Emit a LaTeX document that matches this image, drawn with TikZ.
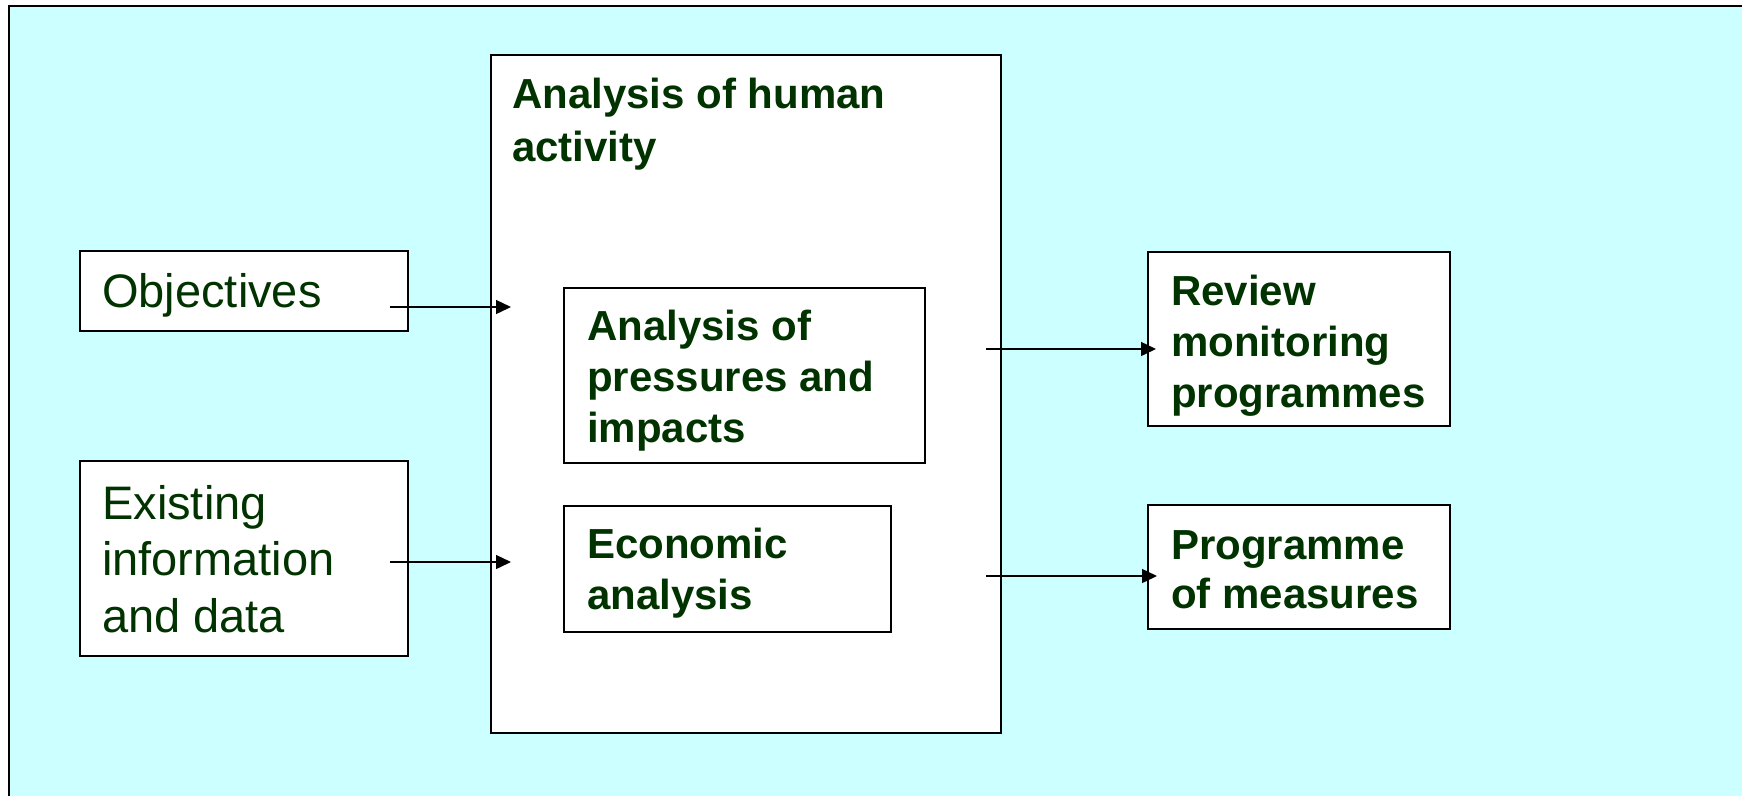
\documentclass[tikz,border=0pt]{standalone}
\usepackage{fontspec}
\setmainfont{Liberation Sans}
\usetikzlibrary{arrows.meta}
\definecolor{bgcyan}{RGB}{204,255,255}
\definecolor{txtgreen}{RGB}{0,51,0}
\tikzset{
  box/.style={draw=black, line width=1.6pt, fill=white, rectangle, inner sep=0pt, outer sep=0pt, anchor=north west},
  plaintxt/.style={anchor=north west, inner sep=0pt, align=left, text=txtgreen, font=\fontsize{47}{56.5}\selectfont},
  boldtxt/.style={anchor=north west, inner sep=0pt, align=left, text=txtgreen, font=\fontsize{42}{51}\selectfont\bfseries},
  flow/.style={draw=black, line width=1.4pt, -{Triangle[length=15pt,width=14pt]}}
}
\begin{document}
\begin{tikzpicture}[x=1pt,y=-1pt]
\useasboundingbox (0,0) rectangle (1742,796);
\fill[white] (0,0) rectangle (1742,796);
\fill[bgcyan] (9,6) rectangle (1742,796);
\draw[line width=2pt] (9,796) -- (9,6) -- (1742,6);

% boxes
\node[box, minimum width=510pt, minimum height=678pt] (human) at (491,55) {};
\node[box, minimum width=328pt, minimum height=80pt] (obj) at (80,251) {};
\node[box, minimum width=328pt, minimum height=195pt] (exist) at (80,461) {};
\node[box, minimum width=361pt, minimum height=175pt] (press) at (564,288) {};
\node[box, minimum width=327pt, minimum height=126pt] (econ) at (564,506) {};
\node[box, minimum width=302pt, minimum height=174pt] (review) at (1148,252) {};
\node[box, minimum width=302pt, minimum height=124pt] (progm) at (1148,505) {};

% texts
\node[plaintxt] (tobj) at (102,273) {Objectives};
\node[plaintxt] (texist) at (102,485) {Existing\\information\\and data};
\node[boldtxt, font=\fontsize{42}{53}\selectfont\bfseries] (thuman) at (512,78) {Analysis of human\\activity};
\node[boldtxt] (tpress) at (587,310) {Analysis of\\pressures and\\impacts};
\node[boldtxt] (tecon) at (587,528) {Economic\\analysis};
\node[boldtxt] (treview) at (1171,275) {Review\\monitoring\\programmes};
\node[boldtxt, font=\fontsize{42}{49.5}\selectfont\bfseries] (tprogm) at (1171,530) {Programme\\of measures};

% arrow ends
\coordinate (a1s) at (390,307);
\coordinate (a1e) at (511,307);
\coordinate (a2s) at (390,562);
\coordinate (a2e) at (511,562);
\coordinate (a3s) at (986,349);
\coordinate (a3e) at (1156,349);
\coordinate (a4s) at (986,576);
\coordinate (a4e) at (1157,576);

\draw[flow] (a1s) -- (a1e);
\draw[flow] (a2s) -- (a2e);
\draw[flow] (a3s) -- (a3e);
\draw[flow] (a4s) -- (a4e);
\end{tikzpicture}
\end{document}
